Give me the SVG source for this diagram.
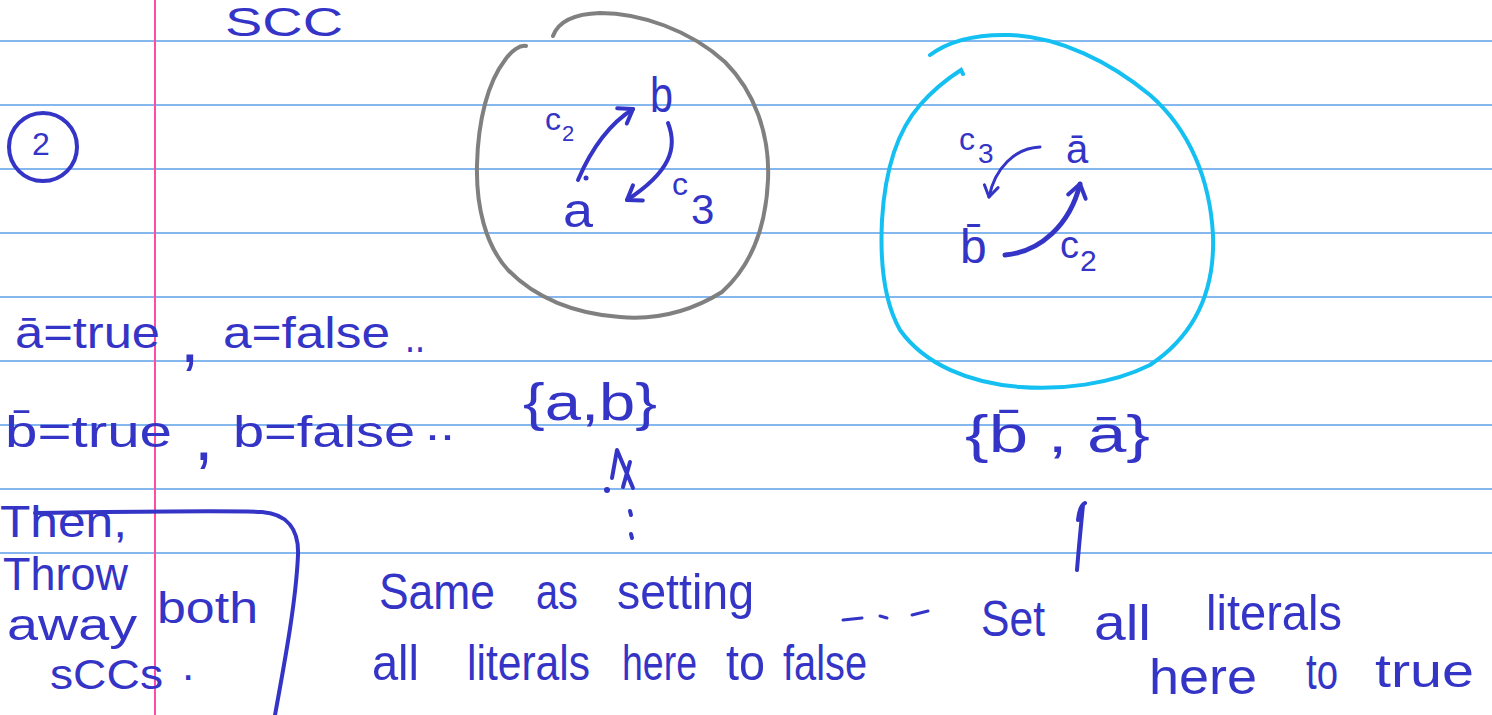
<svg xmlns="http://www.w3.org/2000/svg" width="1492" height="715" viewBox="0 0 1492 715">
<defs>
<style>
.ink{font-family:"Liberation Sans","DejaVu Sans",sans-serif;fill:#3434c6}
.rule{stroke:#5a9fe8;stroke-width:1.6}
.pen{fill:none;stroke:#3434c6;stroke-linecap:round;stroke-linejoin:round;stroke-width:4}
.thin{stroke-width:3}
.thick{stroke-width:5}
.grayloop{fill:none;stroke:#808080;stroke-width:4;stroke-linecap:round}
.cyanloop{fill:none;stroke:#14bff2;stroke-width:4;stroke-linecap:round}
</style>
<marker id="ah" markerUnits="userSpaceOnUse" viewBox="-16 -12 20 24" markerWidth="20" markerHeight="24" refX="0" refY="0" orient="auto"><path d="M-13,-9 L0,0 L-13,9" fill="none" stroke="#3434c6" stroke-width="4" stroke-linecap="round" stroke-linejoin="round"/></marker>
<marker id="ahs" markerUnits="userSpaceOnUse" viewBox="-14 -10 17 20" markerWidth="17" markerHeight="20" refX="0" refY="0" orient="auto"><path d="M-11,-7 L0,0 L-11,7" fill="none" stroke="#3434c6" stroke-width="3" stroke-linecap="round" stroke-linejoin="round"/></marker>
</defs>
<rect width="1492" height="715" fill="#ffffff"/>
<g id="paper">
<line class="rule" x1="0" y1="41" x2="1492" y2="41"/>
<line class="rule" x1="0" y1="105" x2="1492" y2="105"/>
<line class="rule" x1="0" y1="169" x2="1492" y2="169"/>
<line class="rule" x1="0" y1="233" x2="1492" y2="233"/>
<line class="rule" x1="0" y1="297" x2="1492" y2="297"/>
<line class="rule" x1="0" y1="361" x2="1492" y2="361"/>
<line class="rule" x1="0" y1="425" x2="1492" y2="425"/>
<line class="rule" x1="0" y1="489" x2="1492" y2="489"/>
<line class="rule" x1="0" y1="553" x2="1492" y2="553"/>
<line x1="155" y1="0" x2="155" y2="715" stroke="#ff4da6" stroke-width="2"/>
</g>
<g id="title">
<text class="ink" x="225" y="36" font-size="40" textLength="118" lengthAdjust="spacingAndGlyphs">SCC</text>
</g>
<g id="step-number">
<circle class="pen" cx="43" cy="147" r="34"/>
<text class="ink" x="41" y="155" font-size="32" text-anchor="middle">2</text>
</g>
<g id="scc-ab">
<path class="grayloop" d="M553,36 C558,22 572,14 600,13 C640,13 690,30 725,62 C755,92 770,135 768,180 C766,225 752,265 722,292 C690,312 655,320 620,317 C575,314 535,298 508,270 C485,245 476,205 477,165 C478,120 488,82 505,60 C512,50 520,45 526,46"/>
<text class="ink" x="650" y="112" font-size="50" textLength="23" lengthAdjust="spacingAndGlyphs">b</text>
<text class="ink" x="563" y="227" font-size="48" textLength="30" lengthAdjust="spacingAndGlyphs">a</text>
<text class="ink" x="545" y="130" font-size="32">c<tspan x="562" y="141" font-size="22">2</tspan></text>
<text class="ink" x="672" y="195" font-size="32">c<tspan x="691" y="224" font-size="42">3</tspan></text>
</g>
<g id="scc-nb-na">
<path class="cyanloop" d="M930,55 C950,40 975,34 1010,35 C1060,37 1110,62 1150,95 C1190,130 1210,180 1213,235 C1215,290 1195,335 1150,365 C1110,385 1060,390 1020,387 C970,383 925,365 900,330 C883,300 880,260 882,220 C885,170 898,130 920,105 C935,88 950,77 961,70 L963,74"/>
<text class="ink" x="1066" y="163" font-size="40">ā</text>
<text class="ink" x="959" y="150" font-size="32">c<tspan x="978" y="163" font-size="28">3</tspan></text>
<text class="ink" x="960" y="263" font-size="48">b̄</text>
<text class="ink" x="1060" y="258" font-size="38">c<tspan x="1080" y="271" font-size="30">2</tspan></text>
</g>
<g id="connectors">
<path class="pen" d="M578,180 C590,152 606,126 633,109" marker-end="url(#ah)"/>
<circle cx="586" cy="178" r="2.5" fill="#3434c6"/>
<path class="pen" d="M668,123 C678,148 670,172 627,200" marker-end="url(#ah)"/>
<path class="pen thin" d="M1040,147 C1015,148 995,168 989,197" marker-end="url(#ahs)"/>
<path class="pen thick" d="M1005,255 C1040,252 1070,225 1080,184" marker-end="url(#ah)"/>
<path class="pen" d="M612,478 L617,450 L633,488 M630,462 L623,487"/>
<circle cx="607" cy="490" r="3" fill="#3434c6"/>
<path class="pen" d="M630,511 L631,515 M631,534 L632,538"/>
<path class="pen" d="M1077,570 C1079,545 1081,525 1083,505 M1078,520 C1079,510 1081,505 1085,503"/>
<path class="pen thin" d="M843,620 L862,618 M880,616 L887,618 M912,615 L928,611"/>
<path class="pen" d="M35,513 C120,512 220,510 262,512 C288,514 299,530 298,555 C296,600 286,655 275,715"/>
</g>
<g id="assignments">
<text class="ink" x="15" y="348" font-size="44" textLength="145" lengthAdjust="spacingAndGlyphs">ā=true</text>
<text class="ink" x="180" y="362" font-size="70">,</text>
<text class="ink" x="223" y="348" font-size="44" textLength="167" lengthAdjust="spacingAndGlyphs">a=false</text>
<text class="ink" x="405" y="352" font-size="44" textLength="20" lengthAdjust="spacingAndGlyphs">..</text>
<text class="ink" x="5" y="447" font-size="44" textLength="167" lengthAdjust="spacingAndGlyphs">b̄=true</text>
<text class="ink" x="194" y="460" font-size="70">,</text>
<text class="ink" x="233" y="447" font-size="44" textLength="182" lengthAdjust="spacingAndGlyphs">b=false</text>
<text class="ink" x="425" y="440" font-size="44" textLength="30" lengthAdjust="spacingAndGlyphs">..</text>
</g>
<g id="set-ab">
<text class="ink" x="523" y="420" font-size="52" textLength="134" lengthAdjust="spacingAndGlyphs">{a,b}</text>
</g>
<g id="set-nb-na">
<text class="ink" x="965" y="452" font-size="52" textLength="185" lengthAdjust="spacingAndGlyphs">{b̄ , ā}</text>
</g>
<g id="note-left">
<text class="ink" x="0" y="537" font-size="44" textLength="127" lengthAdjust="spacingAndGlyphs">Then,</text>
<text class="ink" x="3" y="590" font-size="46" textLength="125" lengthAdjust="spacingAndGlyphs">Throw</text>
<text class="ink" x="7" y="640" font-size="44" textLength="130" lengthAdjust="spacingAndGlyphs">away</text>
<text class="ink" x="157" y="623" font-size="44" textLength="101" lengthAdjust="spacingAndGlyphs">both</text>
<text class="ink" x="50" y="689" font-size="42" textLength="113" lengthAdjust="spacingAndGlyphs">sCCs</text>
<text class="ink" x="182" y="680" font-size="44">.</text>
</g>
<g id="note-false">
<text class="ink" x="379" y="609" font-size="50" textLength="116" lengthAdjust="spacingAndGlyphs">Same</text>
<text class="ink" x="536" y="609" font-size="50" textLength="42" lengthAdjust="spacingAndGlyphs">as</text>
<text class="ink" x="617" y="609" font-size="50" textLength="137" lengthAdjust="spacingAndGlyphs">setting</text>
<text class="ink" x="372" y="680" font-size="50" textLength="47" lengthAdjust="spacingAndGlyphs">all</text>
<text class="ink" x="467" y="680" font-size="50" textLength="123" lengthAdjust="spacingAndGlyphs">literals</text>
<text class="ink" x="622" y="680" font-size="50" textLength="75" lengthAdjust="spacingAndGlyphs">here</text>
<text class="ink" x="726" y="680" font-size="50" textLength="39" lengthAdjust="spacingAndGlyphs">to</text>
<text class="ink" x="783" y="680" font-size="50" textLength="84" lengthAdjust="spacingAndGlyphs">false</text>
</g>
<g id="note-true">
<text class="ink" x="981" y="636" font-size="50" textLength="64" lengthAdjust="spacingAndGlyphs">Set</text>
<text class="ink" x="1094" y="640" font-size="50" textLength="57" lengthAdjust="spacingAndGlyphs">all</text>
<text class="ink" x="1206" y="630" font-size="50" textLength="136" lengthAdjust="spacingAndGlyphs">literals</text>
<text class="ink" x="1149" y="694" font-size="50" textLength="108" lengthAdjust="spacingAndGlyphs">here</text>
<text class="ink" x="1306" y="689" font-size="50" textLength="32" lengthAdjust="spacingAndGlyphs">to</text>
<text class="ink" x="1375" y="687" font-size="46" textLength="99" lengthAdjust="spacingAndGlyphs">true</text>
</g>
</svg>
